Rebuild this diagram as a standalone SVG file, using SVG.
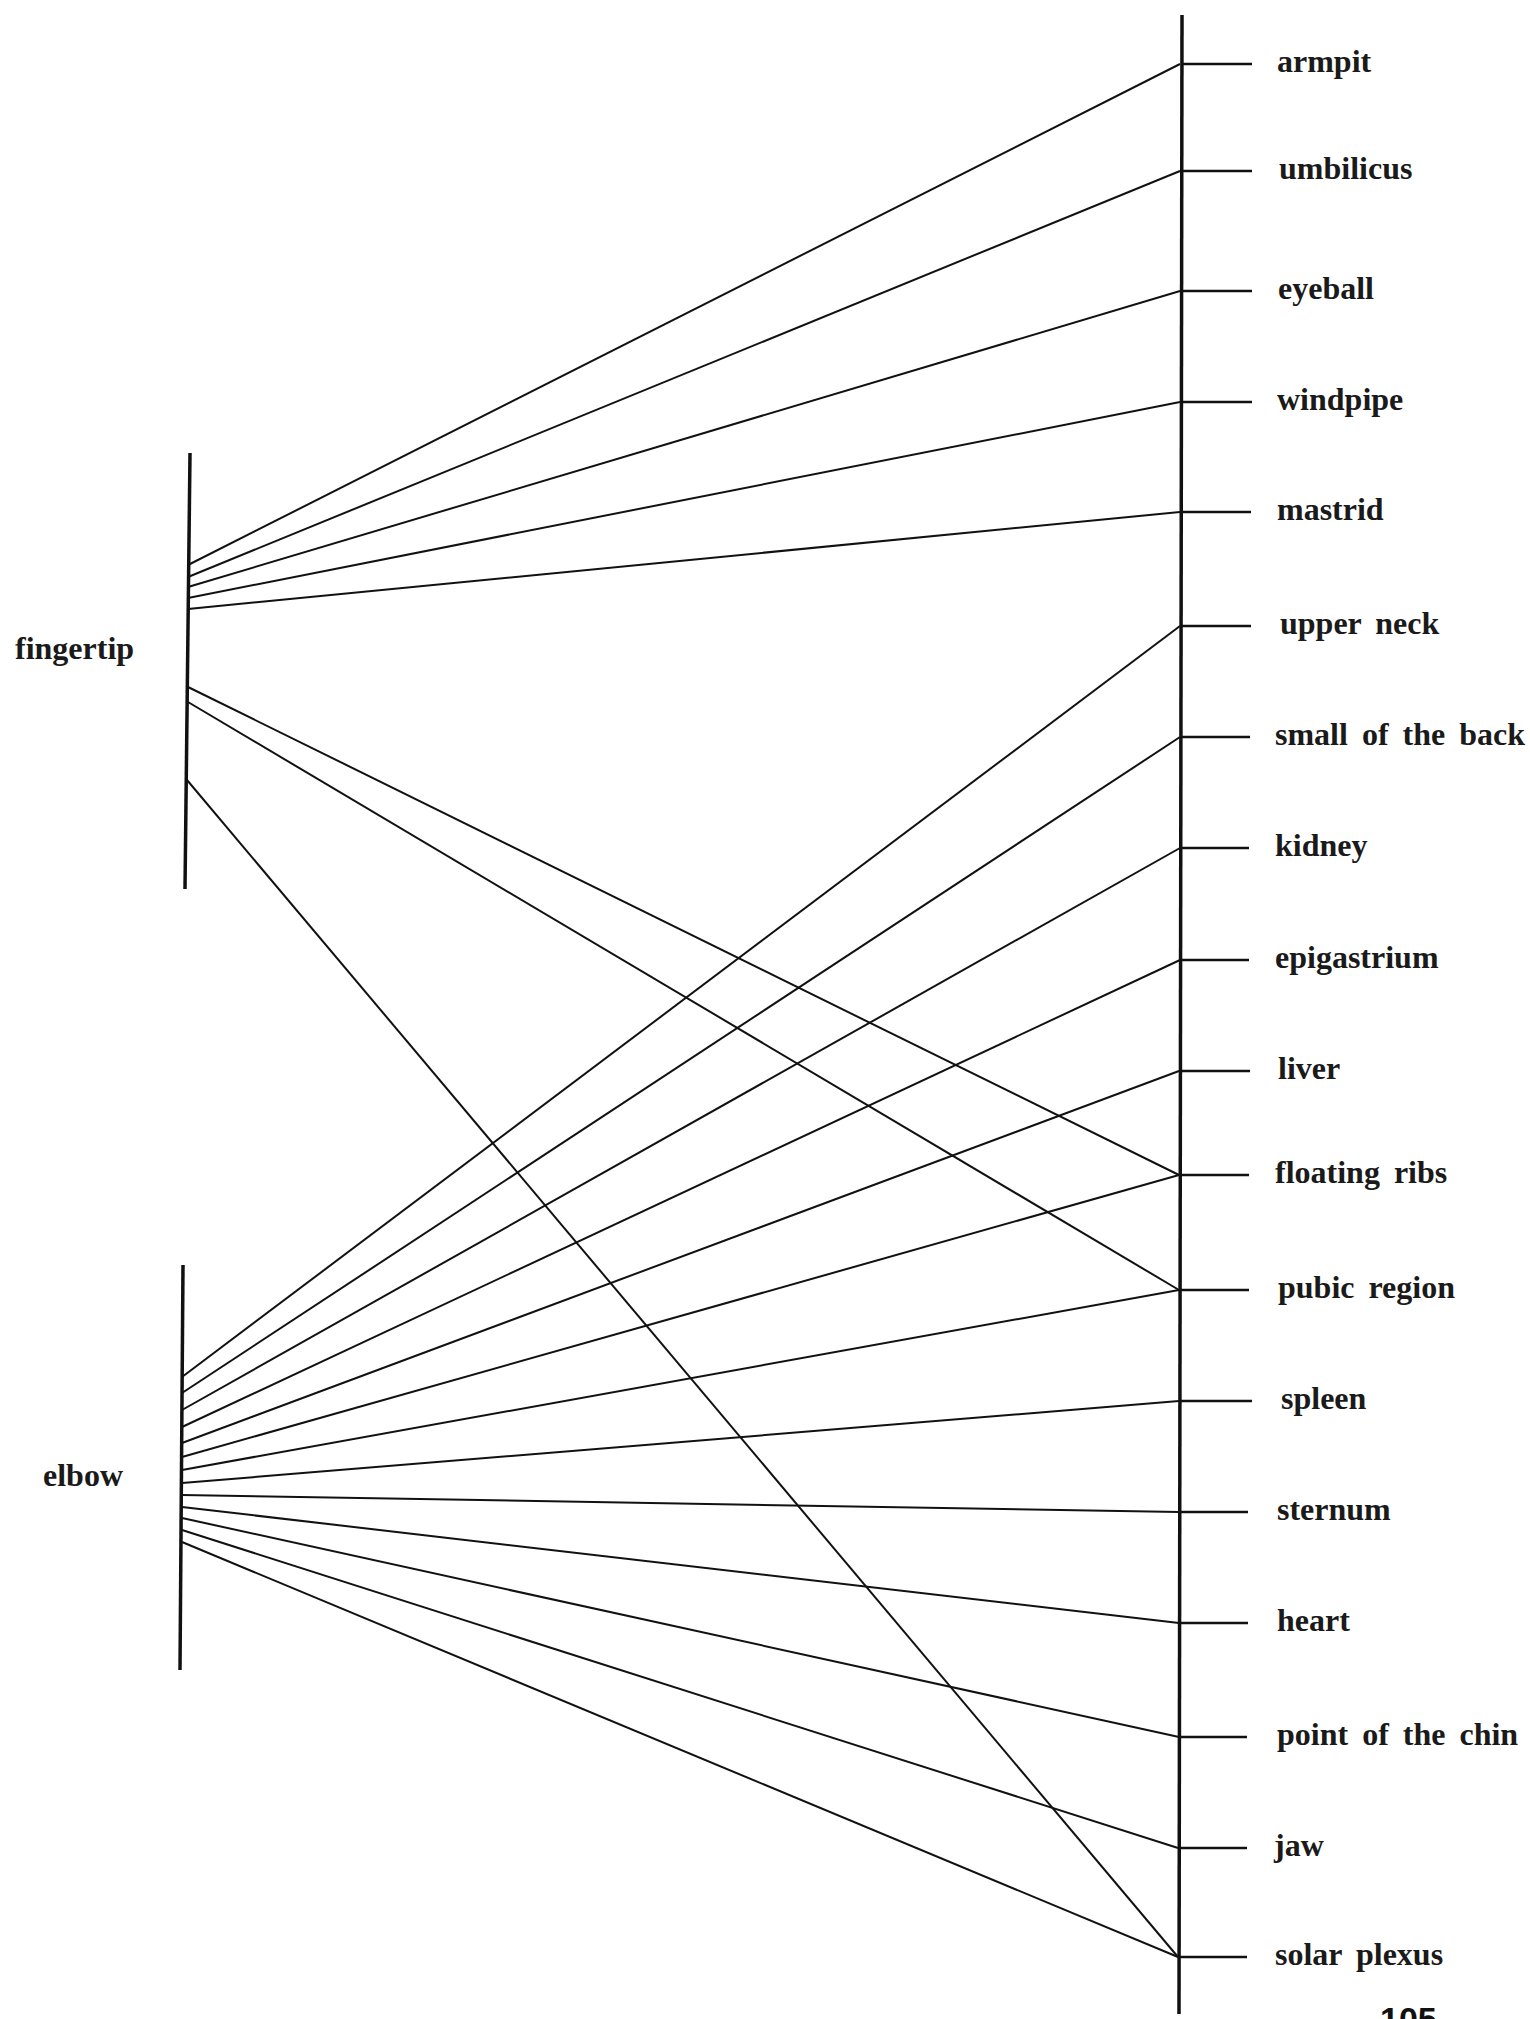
<svg xmlns="http://www.w3.org/2000/svg" width="1530" height="2019" viewBox="0 0 1530 2019">
<style>
.bar{stroke:#111;stroke-width:3.5;fill:none;stroke-linecap:butt}
.tick{stroke:#111;stroke-width:2.5}
.c{stroke:#111;stroke-width:2;fill:none}
.lbl{font-family:"Liberation Serif","Times New Roman",serif;font-weight:bold;font-size:32px;word-spacing:6px;fill:#1a1a1a}
.src{font-family:"Liberation Serif","Times New Roman",serif;font-weight:bold;font-size:32px;fill:#1a1a1a}
.pg{font-family:"Liberation Sans",Arial,sans-serif;font-weight:bold;font-size:34px;fill:#111}
</style>
<rect width="1530" height="2019" fill="#fff"/>
<g id="fingertip">
<line class="bar" x1="190" y1="453" x2="185" y2="889"/>
<text class="src" x="15" y="659">fingertip</text>
</g>
<g id="elbow">
<line class="bar" x1="183" y1="1265" x2="180" y2="1670"/>
<text class="src" x="43" y="1486">elbow</text>
</g>
<g id="body-axis">
<line class="bar" x1="1182" y1="15" x2="1179" y2="2014"/>
</g>
<g id="armpit"><line class="tick" x1="1181" y1="64" x2="1252" y2="64"/><text class="lbl" x="1277" y="72">armpit</text></g>
<g id="umbilicus"><line class="tick" x1="1181" y1="171" x2="1252" y2="171"/><text class="lbl" x="1279" y="179">umbilicus</text></g>
<g id="eyeball"><line class="tick" x1="1181" y1="291" x2="1252" y2="291"/><text class="lbl" x="1278" y="299">eyeball</text></g>
<g id="windpipe"><line class="tick" x1="1181" y1="402" x2="1252" y2="402"/><text class="lbl" x="1277" y="410">windpipe</text></g>
<g id="mastrid"><line class="tick" x1="1181" y1="512" x2="1251" y2="512"/><text class="lbl" x="1277" y="520">mastrid</text></g>
<g id="upper-neck"><line class="tick" x1="1181" y1="626" x2="1251" y2="626"/><text class="lbl" x="1280" y="634">upper neck</text></g>
<g id="small-of-the-back"><line class="tick" x1="1181" y1="737" x2="1250" y2="737"/><text class="lbl" x="1275" y="745">small of the back</text></g>
<g id="kidney"><line class="tick" x1="1181" y1="848" x2="1249" y2="848"/><text class="lbl" x="1275" y="856">kidney</text></g>
<g id="epigastrium"><line class="tick" x1="1181" y1="960" x2="1249" y2="960"/><text class="lbl" x="1275" y="968">epigastrium</text></g>
<g id="liver"><line class="tick" x1="1180" y1="1071" x2="1250" y2="1071"/><text class="lbl" x="1278" y="1079">liver</text></g>
<g id="floating-ribs"><line class="tick" x1="1180" y1="1175" x2="1249" y2="1175"/><text class="lbl" x="1275" y="1183">floating ribs</text></g>
<g id="pubic-region"><line class="tick" x1="1180" y1="1290" x2="1249" y2="1290"/><text class="lbl" x="1278" y="1298">pubic region</text></g>
<g id="spleen"><line class="tick" x1="1180" y1="1401" x2="1252" y2="1401"/><text class="lbl" x="1281" y="1409">spleen</text></g>
<g id="sternum"><line class="tick" x1="1180" y1="1512" x2="1248" y2="1512"/><text class="lbl" x="1277" y="1520">sternum</text></g>
<g id="heart"><line class="tick" x1="1180" y1="1623" x2="1248" y2="1623"/><text class="lbl" x="1277" y="1631">heart</text></g>
<g id="point-of-the-chin"><line class="tick" x1="1180" y1="1737" x2="1247" y2="1737"/><text class="lbl" x="1277" y="1745">point of the chin</text></g>
<g id="jaw"><line class="tick" x1="1179" y1="1848" x2="1247" y2="1848"/><text class="lbl" x="1274" y="1856">jaw</text></g>
<g id="solar-plexus"><line class="tick" x1="1179" y1="1957" x2="1247" y2="1957"/><text class="lbl" x="1275" y="1965">solar plexus</text></g>
<g id="connectors">
<line class="c" x1="188" y1="565" x2="1180" y2="64"/>
<line class="c" x1="188" y1="577" x2="1180" y2="171"/>
<line class="c" x1="188" y1="587" x2="1180" y2="291"/>
<line class="c" x1="188" y1="598" x2="1180" y2="402"/>
<line class="c" x1="188" y1="609" x2="1180" y2="512"/>
<line class="c" x1="188" y1="687" x2="1179" y2="1175"/>
<line class="c" x1="188" y1="702" x2="1179" y2="1290"/>
<line class="c" x1="187" y1="780" x2="1178" y2="1957"/>
<line class="c" x1="182" y1="1377" x2="1180" y2="626"/>
<line class="c" x1="182" y1="1393" x2="1180" y2="737"/>
<line class="c" x1="182" y1="1410" x2="1180" y2="848"/>
<line class="c" x1="182" y1="1427" x2="1180" y2="960"/>
<line class="c" x1="182" y1="1443" x2="1179" y2="1071"/>
<line class="c" x1="182" y1="1457" x2="1179" y2="1175"/>
<line class="c" x1="182" y1="1470" x2="1179" y2="1290"/>
<line class="c" x1="182" y1="1483" x2="1179" y2="1401"/>
<line class="c" x1="182" y1="1495" x2="1179" y2="1512"/>
<line class="c" x1="182" y1="1507" x2="1179" y2="1623"/>
<line class="c" x1="182" y1="1518" x2="1179" y2="1737"/>
<line class="c" x1="182" y1="1530" x2="1178" y2="1848"/>
<line class="c" x1="182" y1="1542" x2="1178" y2="1957"/>
</g>
<text class="pg" x="1380" y="2031">105</text>
</svg>
